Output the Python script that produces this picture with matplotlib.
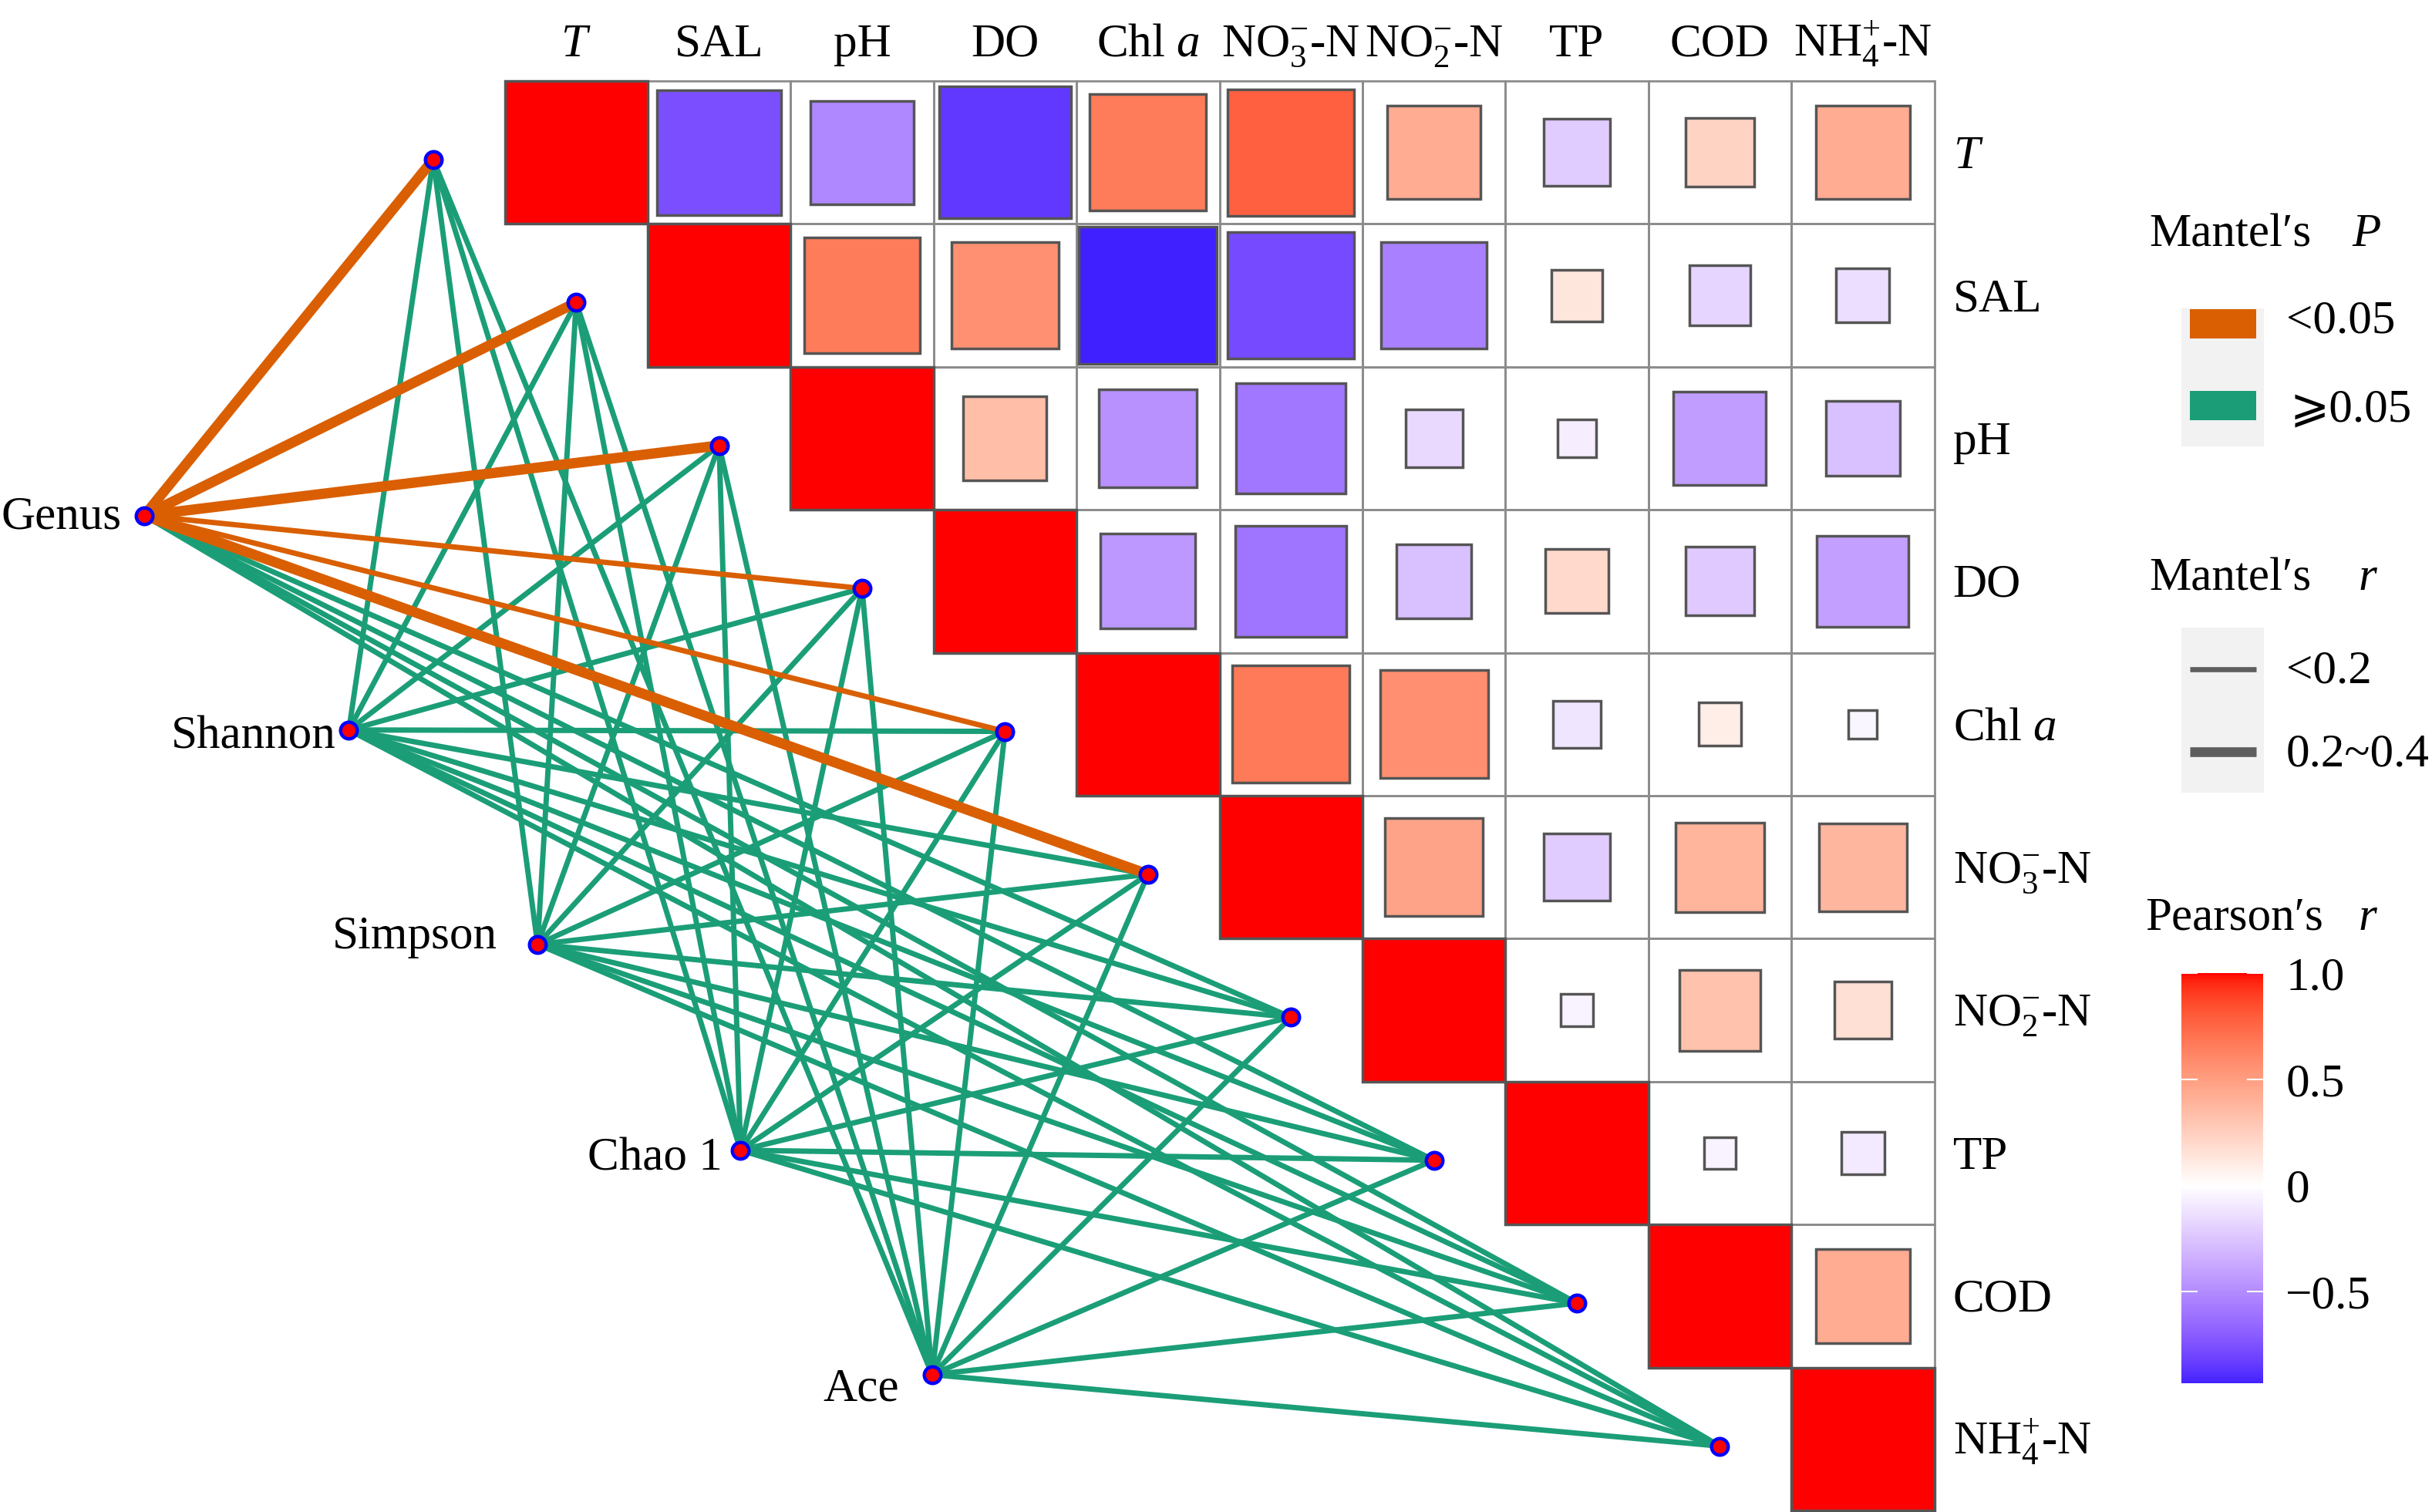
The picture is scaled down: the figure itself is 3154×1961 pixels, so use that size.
import numpy as np
import matplotlib.pyplot as plt
from matplotlib.patches import Rectangle
from matplotlib.colors import ListedColormap, Normalize
from matplotlib.cm import ScalarMappable

plt.rcParams['font.family'] = ['Liberation Serif', 'DejaVu Serif', 'DejaVu Sans']
plt.rcParams['mathtext.fontset'] = 'custom'
plt.rcParams['mathtext.rm'] = 'Liberation Serif'
plt.rcParams['mathtext.it'] = 'Liberation Serif:italic'

# environmental variables (rows / columns of the correlation matrix)
env_labels = [r'$T$', 'SAL', 'pH', 'DO', r'Chl $a$', r'NO$_3^{-}$-N',
              r'NO$_2^{-}$-N', 'TP', 'COD', r'NH$_4^{+}$-N']

# Pearson's r, upper triangle, values to the right of the diagonal per row
r_T = [-0.76, -0.52, -0.85, 0.66, 0.78, 0.43, -0.22, 0.23, 0.43]
r_SAL = [0.66, 0.56, -0.93, -0.78, -0.55, 0.13, -0.18, -0.14]
r_pH = [0.34, -0.47, -0.59, -0.16, -0.07, -0.42, -0.27]
r_DO = [-0.44, -0.60, -0.27, 0.20, -0.23, -0.41]
r_Chla = [0.67, 0.57, -0.11, 0.09, -0.04]
r_NO3 = [0.47, -0.22, 0.39, 0.38]
r_NO2 = [-0.05, 0.32, 0.16]
r_TP = [-0.05, -0.09]
r_COD = [0.43]
upper_rows = [r_T, r_SAL, r_pH, r_DO, r_Chla, r_NO3, r_NO2, r_TP, r_COD, []]

# Mantel test: community indices vs each environmental variable
species = ['Genus', 'Shannon', 'Simpson', 'Chao 1', 'Ace']
mantel_p = [
    [0.001, 0.001, 0.001, 0.02, 0.03, 0.001, 0.21, 0.35, 0.18, 0.27],
    [0.42, 0.38, 0.55, 0.61, 0.47, 0.33, 0.72, 0.66, 0.58, 0.49],
    [0.51, 0.44, 0.62, 0.57, 0.39, 0.41, 0.68, 0.74, 0.52, 0.63],
    [0.36, 0.29, 0.48, 0.71, 0.34, 0.27, 0.59, 0.81, 0.45, 0.54],
    [0.33, 0.31, 0.46, 0.69, 0.37, 0.25, 0.62, 0.77, 0.43, 0.57],
]
mantel_r = [
    [0.27, 0.31, 0.34, 0.15, 0.13, 0.30, 0.08, 0.05, 0.09, 0.06],
    [0.04, 0.05, 0.02, 0.01, 0.03, 0.06, 0.01, 0.02, 0.03, 0.04],
    [0.03, 0.04, 0.01, 0.02, 0.05, 0.05, 0.01, 0.01, 0.03, 0.02],
    [0.06, 0.08, 0.03, 0.01, 0.07, 0.09, 0.02, 0.01, 0.04, 0.03],
    [0.07, 0.08, 0.04, 0.01, 0.06, 0.10, 0.02, 0.01, 0.05, 0.03],
]

# layout (grid cell units, origin at the top-left of the matrix)
species_xy = [(-2.52, 3.04), (-1.09, 4.54), (0.23, 6.04), (1.65, 7.48), (2.99, 9.05)]
species_label_off = [(-0.16, -0.02), (-0.09, 0.02), (-0.28, -0.08), (-0.13, 0.03), (-0.23, 0.07)]

W, H = 3154, 1961
GX, GY, CELL = 654.5, 105.0, 185.4
FS = 44
ORANGE, GREEN = '#D95F02', '#1B9E77'
LW_THIN, LW_THICK = 5.0, 9.6


# ggplot-like gradient2 (blue - white - red, interpolated in Lab)
M_RGB = np.array([[0.4124, 0.3576, 0.1805], [0.2126, 0.7152, 0.0722], [0.0193, 0.1192, 0.9505]])
WHITE_PT = np.array([0.95047, 1.0, 1.08883])


def srgb_to_lab(rgb):
    c = np.asarray(rgb, float)
    lin = np.where(c <= 0.04045, c / 12.92, ((c + 0.055) / 1.055) ** 2.4)
    xyz = M_RGB @ lin / WHITE_PT
    d = 6 / 29
    f = np.where(xyz > d ** 3, np.cbrt(xyz), xyz / (3 * d * d) + 4 / 29)
    return np.array([116 * f[1] - 16, 500 * (f[0] - f[1]), 200 * (f[1] - f[2])])


def lab_to_srgb(lab):
    L, a, b = lab
    fy = (L + 16) / 116
    f = np.array([fy + a / 500, fy, fy - b / 200])
    d = 6 / 29
    xyz = np.where(f > d, f ** 3, 3 * d * d * (f - 4 / 29)) * WHITE_PT
    lin = np.clip(np.linalg.inv(M_RGB) @ xyz, 0, 1)
    return np.clip(np.where(lin <= 0.0031308, 12.92 * lin, 1.055 * lin ** (1 / 2.4) - 0.055), 0, 1)


lab_w, lab_r, lab_b = srgb_to_lab([1, 1, 1]), srgb_to_lab([1, 0, 0]), srgb_to_lab([0, 0, 1])
vals = np.linspace(-1, 1, 513)
cols = [lab_to_srgb(lab_w + (lab_b - lab_w) * -v) if v < 0 else lab_to_srgb(lab_w + (lab_r - lab_w) * v)
        for v in vals]
cmap = ListedColormap(cols)
norm = Normalize(-1, 1)

# full matrix
n = len(env_labels)
R = np.eye(n)
for i, row in enumerate(upper_rows):
    for k, v in enumerate(row):
        R[i, i + 1 + k] = v

fig = plt.figure(figsize=(W / 100, H / 100), dpi=100)
ax = fig.add_axes([0, 0, 1, 1])
ax.set_xlim(-GX / CELL, (W - GX) / CELL)
ax.set_ylim((H - GY) / CELL, -GY / CELL)
ax.axis('off')

# grid + squares (side ~ sqrt|r|)
for i in range(n):
    for j in range(i, n):
        ax.add_patch(Rectangle((j, i), 1, 1, fill=False, edgecolor='#8C8C8C', lw=2, zorder=1))
for i in range(n):
    for j in range(i, n):
        s = np.sqrt(abs(R[i, j]))
        ax.add_patch(Rectangle((j + 0.5 - s / 2, i + 0.5 - s / 2), s, s,
                               facecolor=cmap(norm(R[i, j])), edgecolor='#555555', lw=2.5, zorder=2))

for j, lab in enumerate(env_labels):
    ax.text(j + 0.5, -0.173, lab, ha='center', va='baseline', fontsize=FS)
    ax.text(10.13, j + 0.608, lab, ha='left', va='baseline', fontsize=FS)

# mantel links
env_xy = [(i - 0.5, i + 0.55) for i in range(n)]
for sig in (False, True):
    for s_i, (sx, sy) in enumerate(species_xy):
        for e_i, (ex, ey) in enumerate(env_xy):
            if (mantel_p[s_i][e_i] < 0.05) != sig:
                continue
            lw = LW_THICK if mantel_r[s_i][e_i] >= 0.2 else LW_THIN
            ax.plot([sx, ex], [sy, ey], color=ORANGE if sig else GREEN, lw=lw,
                    solid_capstyle='butt', zorder=3)

nodes = np.array(species_xy + env_xy)
ax.plot(nodes[:, 0], nodes[:, 1], 'o', ms=15.5, mfc='#FF0000', mec='#0000FF', mew=3.2,
        ls='none', zorder=5)
for (sx, sy), (dx, dy), name in zip(species_xy, species_label_off, species):
    ax.text(sx + dx, sy + dy + 0.11, name, ha='right', va='baseline', fontsize=FS)

# legends (pixel layout)
lax = fig.add_axes([0, 0, 1, 1], zorder=10)
lax.set_xlim(0, W)
lax.set_ylim(H, 0)
lax.axis('off')
lax.patch.set_alpha(0)

lax.text(2787, 319, 'Mantel\u2032s', fontsize=FS, va='baseline')
lax.text(3050, 319, r'$P$', fontsize=FS, va='baseline')
lax.add_patch(Rectangle((2829, 400), 107, 179, facecolor='#F2F2F2', edgecolor='none'))
lax.add_patch(Rectangle((2840, 401), 86, 38, facecolor=ORANGE, edgecolor='none'))
lax.add_patch(Rectangle((2840, 507), 86, 38, facecolor=GREEN, edgecolor='none'))
lax.text(2965, 431, '<0.05', fontsize=FS, va='baseline')
lax.text(2970, 546, '\u2a7e0.05', fontsize=FS, va='baseline')

lax.text(2787, 765, 'Mantel\u2032s', fontsize=FS, va='baseline')
lax.text(3058, 765, r'$r$', fontsize=FS, va='baseline')
lax.add_patch(Rectangle((2829, 814), 107, 214, facecolor='#F2F2F2', edgecolor='none'))
lax.plot([2840, 2926], [868, 868], color='#5E5E5E', lw=4.8, solid_capstyle='butt')
lax.plot([2840, 2926], [975, 975], color='#5E5E5E', lw=9.1, solid_capstyle='butt')
lax.text(2965, 885, '<0.2', fontsize=FS, va='baseline')
lax.text(2965, 994, '0.2~0.4', fontsize=FS, va='baseline')

lax.text(2782, 1206, 'Pearson\u2032s', fontsize=FS, va='baseline')
lax.text(3058, 1206, r'$r$', fontsize=FS, va='baseline')

rmin = R.min()
cax = fig.add_axes([2829 / W, 1 - 1794 / H, 106 / W, 532 / H])
cb = fig.colorbar(ScalarMappable(norm=norm, cmap=cmap), cax=cax,
                  boundaries=np.linspace(rmin, 1, 400))
cb.outline.set_visible(False)
cb.set_ticks([1.0, 0.5, 0, -0.5])
cb.set_ticklabels(['1.0', '0.5', '0', '\u22120.5'])
cax.tick_params(axis='y', which='both', left=True, right=True, labelleft=False, labelright=True,
                direction='in', color='white', length=15, width=1.5, pad=21, labelsize=FS)

fig.savefig('out.png', dpi=100)
